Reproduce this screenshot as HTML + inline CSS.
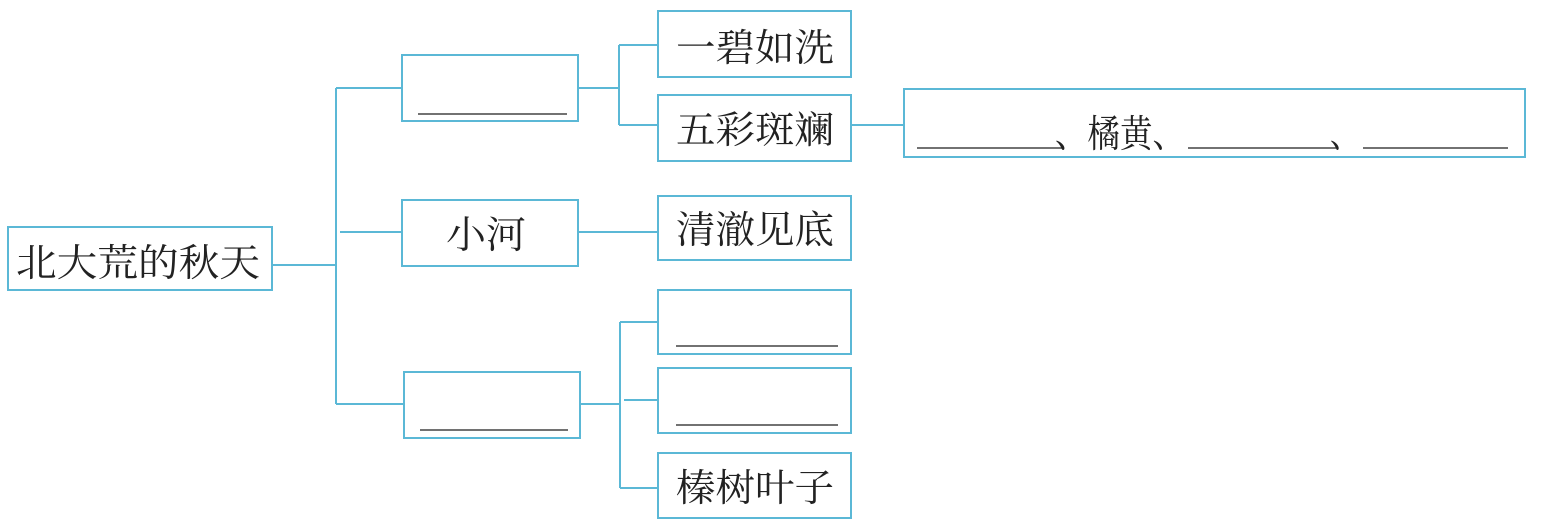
<!DOCTYPE html>
<html><head><meta charset="utf-8"><style>
html,body{margin:0;padding:0;background:#fff;}
svg{display:block}
text{font-family:"Liberation Serif","Noto Serif CJK SC","Noto Sans CJK SC",serif;font-size:38px;fill:#222;}
</style></head><body>
<svg width="1559" height="528" viewBox="0 0 1559 528" xmlns="http://www.w3.org/2000/svg">
<g fill="none" stroke="#5bb8d6" stroke-width="2">
<rect x="8" y="227" width="264" height="63"/>
<rect x="402" y="55" width="176" height="66"/>
<rect x="402" y="200" width="176" height="66"/>
<rect x="404" y="372" width="176" height="66"/>
<rect x="658" y="11" width="193" height="66"/>
<rect x="658" y="95" width="193" height="66"/>
<rect x="658" y="196" width="193" height="64"/>
<rect x="658" y="290" width="193" height="64"/>
<rect x="658" y="368" width="193" height="65"/>
<rect x="658" y="453" width="193" height="65"/>
<rect x="904" y="89" width="621" height="68"/>
<path d="M272 265 H336 M336 88 V404 M336 88 H402 M340 232 H402 M336 404 H404"/>
<path d="M578 88 H619 M619 45 V125 M619 45 H658 M619 125 H658"/>
<path d="M578 232 H658 M851 125 H904"/>
<path d="M580 404 H620 M620 322 V488 M620 322 H658 M624 400 H658 M620 488 H658"/>
</g>
<g stroke="#444" stroke-width="1.5">
<path d="M418 114 H567 M420 430 H568 M676 346 H838 M676 425 H838"/>
<path d="M917 148 H1062 M1188 148 H1336 M1363 148 H1508"/>
</g>
<text x="16" y="276" textLength="244" lengthAdjust="spacingAndGlyphs">北大荒的秋天</text>
<text x="446" y="248" textLength="80" lengthAdjust="spacingAndGlyphs">小河</text>
<text x="676" y="61" textLength="158" lengthAdjust="spacingAndGlyphs">一碧如洗</text>
<text x="676" y="143" textLength="158" lengthAdjust="spacingAndGlyphs">五彩斑斓</text>
<text x="676" y="243" textLength="158" lengthAdjust="spacingAndGlyphs">清澈见底</text>
<text x="676" y="501" textLength="158" lengthAdjust="spacingAndGlyphs">榛树叶子</text>
<text x="1055" y="147" textLength="130" lengthAdjust="spacingAndGlyphs">、橘黄、</text>
<text x="1330" y="147" textLength="30" lengthAdjust="spacingAndGlyphs">、</text>
</svg>
</body></html>
